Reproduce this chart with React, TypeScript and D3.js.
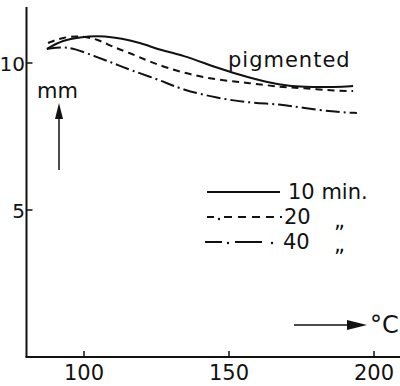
import * as d3 from 'd3';

// temperature (°C) and thickness (mm)
const temp10 = [87.2, 92.8, 98.6, 104.5, 110, 115.9, 121.7, 126.2, 134.1, 145.9, 157.2, 167.6, 175.5, 187.2, 192.8];
const mm10 = [10.48, 10.78, 10.88, 10.92, 10.88, 10.78, 10.61, 10.44, 10.27, 9.83, 9.49, 9.25, 9.18, 9.18, 9.22];

const temp20 = [87.6, 92.8, 98.6, 104.5, 110, 115.9, 122.8, 134.1, 145.9, 157.2, 167.6, 175.5, 187.2, 192.8];
const mm20 = [10.68, 10.88, 10.92, 10.82, 10.54, 10.34, 10.03, 9.66, 9.42, 9.32, 9.18, 9.15, 9.05, 9.05];

const temp40 = [87.2, 92.8, 96.2, 104.5, 110, 115.9, 126.2, 134.1, 145.9, 157.2, 167.6, 175.5, 187.2, 194.1];
const mm40 = [10.48, 10.54, 10.51, 10.2, 10.0, 9.76, 9.42, 9.08, 8.81, 8.64, 8.6, 8.47, 8.33, 8.3];

const xTicks = [100, 150, 200];
const yTicks = [5, 10];

const series = [
  { name: '10', xs: temp10, ys: mm10, dash: '' },
  { name: '20', xs: temp20, ys: mm20, dash: '7,5' },
  { name: '40', xs: temp40, ys: mm40, dash: '14,4,2,4' },
];

const font = '"DejaVu Sans", sans-serif';

export default function App() {
  const x = d3.scaleLinear().domain([100, 200]).range([84, 374]);
  const y = d3.scaleLinear().domain([0, 10]).range([357, 63]);

  const line = d3.line<[number, number]>()
    .x(d => x(d[0]))
    .y(d => y(d[1]))
    .curve(d3.curveBasis);

  const x0 = 26.5;

  return (
    <svg width={400} height={386} style={{ position: 'absolute', left: 0, top: 0, background: '#fff' }}>
      {/* axes */}
      <line x1={x0} y1={7} x2={x0} y2={357} stroke="#111" strokeWidth={2} />
      <line x1={x0 - 1} y1={357} x2={400} y2={357} stroke="#111" strokeWidth={2} />
      {yTicks.map(t => (
        <g key={t}>
          <line x1={x0} x2={x0 + 6} y1={y(t)} y2={y(t)} stroke="#111" strokeWidth={1.5} />
          <text x={25} y={y(t) + 7.5} textAnchor="end" fontFamily={font} fontSize={20} fill="#111">{t}</text>
        </g>
      ))}
      {xTicks.map(t => (
        <g key={t}>
          <line x1={x(t)} x2={x(t)} y1={357} y2={351} stroke="#111" strokeWidth={1.5} />
          <text x={x(t)} y={380} textAnchor="middle" fontFamily={font} fontSize={21} fill="#111">{t}</text>
        </g>
      ))}

      {/* curves */}
      {series.map(s => (
        <path key={s.name}
          d={line(s.xs.map((v, i) => [v, s.ys[i]] as [number, number])) || ''}
          fill="none" stroke="#111" strokeWidth={2} strokeDasharray={s.dash} />
      ))}

      <text x={228} y={67} fontFamily={font} fontSize={21} letterSpacing={1} fill="#111">pigmented</text>

      {/* mm arrow */}
      <text x={37} y={98} fontFamily={font} fontSize={21} fill="#111">mm</text>
      <line x1={59} y1={170} x2={59} y2={114} stroke="#111" strokeWidth={1.5} />
      <path d="M59,103 L55,119 L63,119 Z" fill="#111" />

      {/* °C arrow */}
      <line x1={294} y1={325} x2={350} y2={325} stroke="#111" strokeWidth={1.5} />
      <path d="M367,325 L347,320 L347,330 Z" fill="#111" />
      <text x={370} y={333} fontFamily={font} fontSize={24} fill="#111">°C</text>

      {/* legend */}
      <line x1={207} x2={280} y1={192} y2={192} stroke="#111" strokeWidth={2} />
      <text x={288} y={199} fontFamily={font} fontSize={21} fill="#111">10 min.</text>

      <line x1={207} x2={214} y1={217} y2={217} stroke="#111" strokeWidth={2} />
      <circle cx={219} cy={219} r={1.2} fill="#111" />
      <line x1={224} x2={282} y1={217} y2={217} stroke="#111" strokeWidth={2} strokeDasharray="8,6" />
      <text x={284} y={224} fontFamily={font} fontSize={21} fill="#111">20</text>
      <text x={334} y={228} fontFamily={font} fontSize={21} fill="#111">„</text>

      <line x1={205} x2={222} y1={242} y2={242} stroke="#111" strokeWidth={2} />
      <circle cx={228} cy={243} r={1.2} fill="#111" />
      <line x1={235} x2={262} y1={242} y2={242} stroke="#111" strokeWidth={2} />
      <circle cx={272} cy={243} r={1.2} fill="#111" />
      <text x={283} y={249} fontFamily={font} fontSize={21} fill="#111">40</text>
      <text x={334} y={252} fontFamily={font} fontSize={21} fill="#111">„</text>
    </svg>
  );
}
